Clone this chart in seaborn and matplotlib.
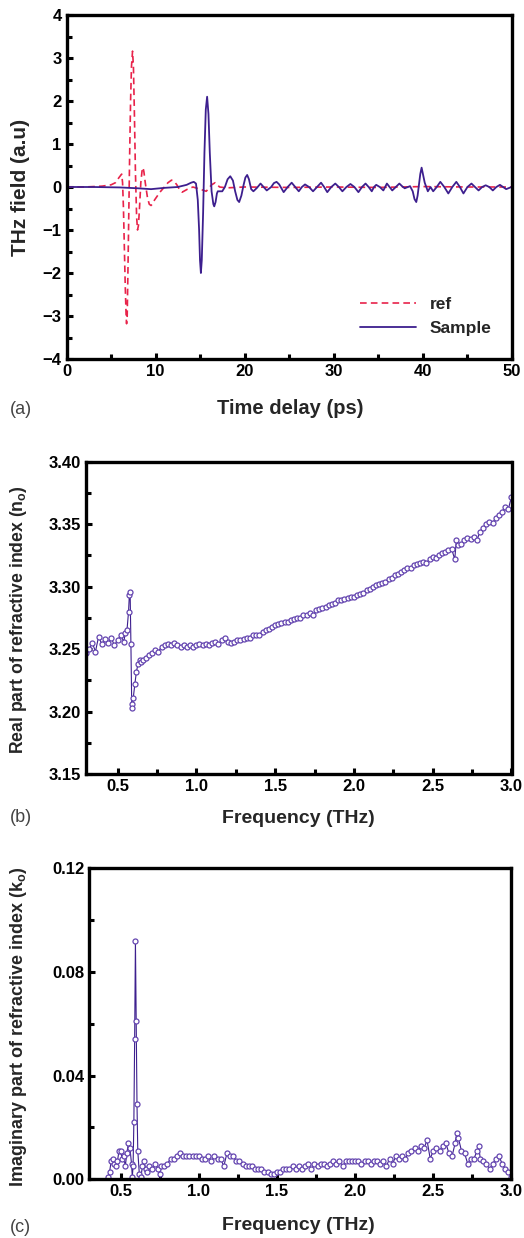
import matplotlib
matplotlib.use("Agg")
import matplotlib.pyplot as plt
import seaborn as sns
from matplotlib.ticker import MultipleLocator, FormatStrFormatter

# ---- (a) time-domain THz field ----
ref_t = [0, 2, 4, 5, 5.5, 5.9, 6.2, 6.3, 6.4, 6.5, 6.6, 6.7, 6.75, 6.82, 6.9, 7.0, 7.1,
         7.2, 7.3, 7.42, 7.52, 7.62, 7.75, 7.88, 7.98, 8.08, 8.2, 8.35, 8.5, 8.6, 8.7,
         8.85, 9.1, 9.3, 9.5, 9.7, 9.9, 10.5, 11.0, 11.4, 11.8, 12.1, 12.4, 12.7, 13.0,
         13.6, 14.2, 15.0, 15.7, 16.3, 16.7, 17.2, 18, 20, 25, 30, 35, 40, 45, 50]
ref_v = [0.0, 0.0, 0.02, 0.05, 0.10, 0.22, 0.30, 0.1, -0.5, -1.4, -2.3, -3.0, -3.18, -3.0,
         -2.0, -0.6, 0.8, 2.0, 2.8, 3.16, 2.8, 1.8, 0.3, -0.7, -1.0, -0.9, -0.5, 0.1, 0.4,
         0.45, 0.35, 0.1, -0.25, -0.4, -0.43, -0.38, -0.3, -0.12, 0.0, 0.1, 0.16, 0.13,
         0.05, -0.06, -0.12, -0.05, 0.0, -0.05, -0.1, 0.05, 0.1, 0.0, -0.02, 0.0, -0.01,
         0.0, -0.01, 0.01, 0.0, 0.0]

smp_t = [0, 3, 6, 8, 9.5, 11, 12.5, 13.5, 14.0, 14.3, 14.55, 14.75, 14.9, 15.0, 15.1, 15.2,
         15.35, 15.5, 15.65, 15.8, 15.95, 16.1, 16.3, 16.5, 16.6, 16.75, 16.9, 17.0, 17.5,
         17.8, 18.1, 18.4, 18.7, 18.95, 19.2, 19.4, 19.65, 19.9, 20.1, 20.3, 20.5, 20.75,
         21.0, 21.4, 21.8, 22.15, 22.5, 23.0, 23.3, 23.6, 23.9, 24.4, 24.85, 25.3, 25.7,
         26.1, 26.45, 26.8, 27.25, 27.7, 28.15, 28.6, 28.95, 29.3, 29.75, 30.2, 30.6, 31.0,
         31.45, 31.9, 32.35, 32.8, 33.2, 33.6, 33.95, 34.3, 34.55, 34.8, 35.2, 35.6, 35.8,
         36.0, 36.3, 36.6, 37.0, 37.4, 37.7, 38.0, 38.6, 38.9, 39.1, 39.3, 39.45, 39.6,
         39.75, 39.9, 40.05, 40.25, 40.6, 40.9, 41.2, 41.6, 42.0, 42.45, 42.9, 43.35, 43.8,
         44.2, 44.6, 45.05, 45.5, 45.9, 46.3, 46.7, 47.1, 47.5, 47.9, 48.3, 48.7, 49.05,
         49.4, 50]
smp_v = [0.0, 0.0, -0.01, -0.03, -0.05, -0.02, 0.0, 0.05, 0.10, 0.12, 0.08, -0.3, -1.0,
         -1.7, -2.0, -1.7, -0.6, 0.8, 1.8, 2.1, 1.7, 0.8, -0.1, -0.4, -0.45, -0.35, -0.15,
         -0.1, -0.1, 0.0, 0.18, 0.25, 0.15, -0.1, -0.3, -0.35, -0.2, 0.05, 0.22, 0.28, 0.18,
         -0.05, -0.1, -0.02, 0.08, 0.0, -0.08, 0.0, 0.09, 0.12, 0.06, -0.12, 0.0, 0.10, 0.0,
         -0.10, 0.0, 0.06, 0.0, -0.10, 0.0, 0.10, 0.0, -0.12, 0.0, 0.08, 0.0, -0.10, 0.0,
         0.07, 0.0, -0.12, 0.0, 0.08, 0.0, -0.10, 0.0, 0.05, 0.0, -0.08, 0.0, 0.08, 0.0,
         -0.08, 0.0, 0.08, 0.02, -0.03, 0.02, -0.1, -0.28, -0.35, -0.2, 0.05, 0.3, 0.45,
         0.3, 0.1, -0.1, 0.0, -0.1, 0.0, 0.12, 0.0, -0.15, 0.0, 0.12, 0.0, -0.15, 0.0, 0.08,
         0.0, -0.08, 0.0, 0.04, 0.0, -0.08, 0.0, 0.05, 0.0, -0.05, 0.0]

# ---- (b) real part of refractive index ----
n_freq = [0.30, 0.32, 0.34, 0.36, 0.38, 0.40, 0.42, 0.44, 0.46, 0.48, 0.50, 0.52, 0.54,
          0.55, 0.56, 0.57, 0.575, 0.58, 0.585, 0.59, 0.595, 0.60, 0.61, 0.62, 0.63, 0.64,
          0.65, 0.66, 0.68, 0.70, 0.72, 0.74, 0.76, 0.78, 0.80, 0.82, 0.84, 0.86, 0.88,
          0.90, 0.92, 0.94, 0.96, 0.98, 1.00, 1.02, 1.04, 1.06, 1.08, 1.10, 1.12, 1.14,
          1.16, 1.18, 1.20, 1.22, 1.24, 1.26, 1.28, 1.30, 1.32, 1.34, 1.36, 1.38, 1.40,
          1.42, 1.44, 1.46, 1.48, 1.50, 1.52, 1.54, 1.56, 1.58, 1.60, 1.62, 1.64, 1.66,
          1.68, 1.70, 1.72, 1.74, 1.76, 1.78, 1.80, 1.82, 1.84, 1.86, 1.88, 1.90, 1.92,
          1.94, 1.96, 1.98, 2.00, 2.02, 2.04, 2.06, 2.08, 2.10, 2.12, 2.14, 2.16, 2.18,
          2.20, 2.22, 2.24, 2.26, 2.28, 2.30, 2.32, 2.34, 2.36, 2.38, 2.40, 2.42, 2.44,
          2.46, 2.48, 2.50, 2.52, 2.54, 2.56, 2.58, 2.60, 2.62, 2.64, 2.65, 2.66, 2.68,
          2.70, 2.72, 2.74, 2.76, 2.78, 2.80, 2.82, 2.84, 2.86, 2.88, 2.90, 2.92, 2.94,
          2.96, 2.98, 3.00]
n_real = [3.247, 3.250, 3.255, 3.248, 3.260, 3.254, 3.258, 3.255, 3.259, 3.253, 3.257,
          3.261, 3.256, 3.263, 3.265, 3.280, 3.293, 3.296, 3.254, 3.206, 3.203, 3.211,
          3.222, 3.232, 3.238, 3.241, 3.240, 3.241, 3.243, 3.245, 3.247, 3.249, 3.248,
          3.252, 3.253, 3.254, 3.253, 3.255, 3.253, 3.252, 3.253, 3.252, 3.253, 3.252,
          3.253, 3.254, 3.253, 3.254, 3.253, 3.255, 3.256, 3.254, 3.257, 3.259, 3.256,
          3.255, 3.256, 3.257, 3.257, 3.258, 3.259, 3.259, 3.261, 3.261, 3.261, 3.264,
          3.265, 3.266, 3.268, 3.269, 3.270, 3.271, 3.272, 3.272, 3.273, 3.274, 3.275,
          3.275, 3.277, 3.277, 3.279, 3.277, 3.281, 3.282, 3.283, 3.284, 3.285, 3.286,
          3.287, 3.289, 3.289, 3.290, 3.291, 3.292, 3.292, 3.293, 3.294, 3.295, 3.297,
          3.298, 3.300, 3.301, 3.302, 3.303, 3.304, 3.306, 3.307, 3.309, 3.310, 3.312,
          3.313, 3.315, 3.315, 3.317, 3.318, 3.319, 3.320, 3.319, 3.322, 3.324, 3.323,
          3.325, 3.327, 3.328, 3.329, 3.330, 3.322, 3.337, 3.333, 3.334, 3.337, 3.339,
          3.338, 3.340, 3.337, 3.344, 3.347, 3.350, 3.352, 3.351, 3.355, 3.357, 3.360,
          3.364, 3.362, 3.372]

# ---- (c) imaginary part of refractive index ----
k_freq = [0.42, 0.43, 0.44, 0.45, 0.46, 0.47, 0.48, 0.49, 0.50, 0.51, 0.52, 0.53, 0.54,
          0.55, 0.56, 0.57, 0.575, 0.58, 0.585, 0.59, 0.595, 0.60, 0.605, 0.61, 0.62,
          0.63, 0.64, 0.65, 0.66, 0.67, 0.68, 0.70, 0.72, 0.74, 0.75, 0.76, 0.78, 0.80,
          0.82, 0.84, 0.86, 0.88, 0.90, 0.92, 0.94, 0.96, 0.98, 1.00, 1.02, 1.04, 1.06,
          1.08, 1.10, 1.12, 1.14, 1.16, 1.18, 1.20, 1.22, 1.24, 1.26, 1.28, 1.30, 1.32,
          1.34, 1.36, 1.38, 1.40, 1.42, 1.44, 1.46, 1.48, 1.50, 1.52, 1.54, 1.56, 1.58,
          1.60, 1.62, 1.64, 1.66, 1.68, 1.70, 1.72, 1.74, 1.76, 1.78, 1.80, 1.82, 1.84,
          1.86, 1.88, 1.90, 1.92, 1.94, 1.96, 1.98, 2.00, 2.02, 2.04, 2.06, 2.08, 2.10,
          2.12, 2.14, 2.16, 2.18, 2.20, 2.22, 2.24, 2.26, 2.28, 2.30, 2.32, 2.34, 2.36,
          2.38, 2.40, 2.42, 2.44, 2.46, 2.48, 2.50, 2.52, 2.54, 2.56, 2.58, 2.60, 2.62,
          2.64, 2.65, 2.66, 2.68, 2.70, 2.72, 2.74, 2.76, 2.78, 2.79, 2.80, 2.82, 2.84,
          2.86, 2.88, 2.90, 2.92, 2.94, 2.96, 2.98, 3.00]
k_imag = [0.001, 0.003, 0.007, 0.008, 0.006, 0.005, 0.007, 0.011, 0.011, 0.008, 0.009,
          0.005, 0.010, 0.014, 0.012, 0.006, 0.001, 0.005, 0.022, 0.054, 0.092, 0.061,
          0.029, 0.011, 0.002, 0.001, 0.005, 0.007, 0.004, 0.003, 0.005, 0.004, 0.006,
          0.004, 0.002, 0.005, 0.005, 0.006, 0.008, 0.008, 0.009, 0.010, 0.009, 0.009,
          0.009, 0.009, 0.009, 0.009, 0.008, 0.008, 0.009, 0.007, 0.009, 0.008, 0.008,
          0.005, 0.010, 0.009, 0.009, 0.007, 0.007, 0.006, 0.005, 0.005, 0.005, 0.004,
          0.004, 0.004, 0.003, 0.003, 0.002, 0.002, 0.003, 0.003, 0.004, 0.004, 0.004,
          0.005, 0.004, 0.005, 0.004, 0.005, 0.006, 0.004, 0.006, 0.005, 0.006, 0.006,
          0.005, 0.006, 0.007, 0.006, 0.007, 0.005, 0.007, 0.007, 0.007, 0.007, 0.007,
          0.006, 0.007, 0.007, 0.006, 0.007, 0.007, 0.006, 0.007, 0.005, 0.008, 0.006,
          0.009, 0.008, 0.009, 0.008, 0.010, 0.011, 0.012, 0.011, 0.013, 0.012, 0.015,
          0.008, 0.011, 0.012, 0.011, 0.013, 0.014, 0.010, 0.009, 0.014, 0.018, 0.016,
          0.011, 0.010, 0.006, 0.008, 0.008, 0.011, 0.013, 0.008, 0.007, 0.006, 0.004,
          0.006, 0.008, 0.009, 0.006, 0.004, 0.003, 0.001]

RED = "#e8234a"
PURPLE = "#3d1f8e"
MARK = "#6445b0"

sns.set_style("ticks")
plt.rcParams["font.family"] = ["Liberation Sans", "DejaVu Sans"]
plt.rcParams["mathtext.fontset"] = "custom"
plt.rcParams["mathtext.bf"] = "Liberation Sans:bold"
plt.rcParams["mathtext.rm"] = "Liberation Sans:bold"

W, H = 524, 1238
fig = plt.figure(figsize=(W / 100, H / 100), dpi=100)


def box(l, t, r, b):
    return [l / W, 1 - b / H, (r - l) / W, (b - t) / H]


def style(ax):
    for s in ax.spines.values():
        s.set_linewidth(2.4)
        s.set_color("black")
    ax.tick_params(which="both", direction="in", width=2.2, colors="black",
                   labelsize=12)
    ax.tick_params(which="major", length=4.5)
    ax.tick_params(which="minor", length=3.5)
    for lab in ax.get_xticklabels() + ax.get_yticklabels():
        lab.set_fontweight("bold")


def place_labels(ax, xl_top, yl_center, yl_right=29):
    ax.xaxis.set_label_coords(298 / W, 1 - xl_top / H, transform=fig.transFigure)
    ax.yaxis.set_label_coords(yl_right / W, 1 - yl_center / H, transform=fig.transFigure)


# panel (a)
ax1 = fig.add_axes(box(66.5, 15, 511.5, 359))
sns.lineplot(x=ref_t, y=ref_v, ax=ax1, color=RED, linestyle=(0, (4, 2.5)),
             linewidth=1.2, sort=False, estimator=None, label="ref")
sns.lineplot(x=smp_t, y=smp_v, ax=ax1, color=PURPLE, linewidth=1.3,
             sort=False, estimator=None, label="Sample")
ax1.set_xlim(0, 50)
ax1.set_ylim(-4, 4)
ax1.xaxis.set_major_locator(MultipleLocator(10))
ax1.xaxis.set_minor_locator(MultipleLocator(5))
ax1.yaxis.set_major_locator(MultipleLocator(1))
ax1.yaxis.set_minor_locator(MultipleLocator(0.5))
style(ax1)
ax1.set_xlabel("Time delay (ps)", fontsize=14.5, fontweight="bold")
ax1.set_ylabel("THz field (a.u)", fontsize=15, fontweight="bold")
ax1.xaxis.set_label_coords(290 / W, 1 - 399 / H, transform=fig.transFigure)
ax1.yaxis.set_label_coords(30 / W, 1 - 187 / H, transform=fig.transFigure)
ax1.legend(loc="lower right", frameon=False, handlelength=3.2,
           bbox_to_anchor=(0.99, 0.02), prop={"weight": "bold", "size": 12.5},
           labelspacing=0.55)
fig.text(10 / W, 1 - 410 / H, "(a)", fontsize=13, color="#444444", va="center")

# panel (b)
ax2 = fig.add_axes(box(86, 461.7, 511.5, 774))
sns.lineplot(x=n_freq, y=n_real, ax=ax2, color=PURPLE, linewidth=0.8,
             marker="o", markersize=3.6, markerfacecolor="white",
             markeredgecolor=MARK, markeredgewidth=0.9, sort=False, estimator=None)
ax2.set_xlim(0.3, 3.0)
ax2.set_ylim(3.15, 3.40)
ax2.xaxis.set_major_locator(MultipleLocator(0.5))
ax2.xaxis.set_minor_locator(MultipleLocator(0.25))
ax2.yaxis.set_major_locator(MultipleLocator(0.05))
ax2.yaxis.set_minor_locator(MultipleLocator(0.025))
ax2.xaxis.set_major_formatter(FormatStrFormatter("%.1f"))
ax2.yaxis.set_major_formatter(FormatStrFormatter("%.2f"))
style(ax2)
ax2.set_xlabel("Frequency (THz)", fontsize=14, fontweight="bold")
ax2.set_ylabel(r"Real part of refractive index (n$_\mathbf{o}$)", fontsize=12.7,
               fontweight="bold")
place_labels(ax2, 810, 620)
fig.text(10 / W, 1 - 818 / H, "(b)", fontsize=13, color="#444444", va="center")

# panel (c)
ax3 = fig.add_axes(box(89.3, 868.3, 511.5, 1179.3))
sns.lineplot(x=k_freq, y=k_imag, ax=ax3, color=PURPLE, linewidth=0.8,
             marker="o", markersize=3.6, markerfacecolor="white",
             markeredgecolor=MARK, markeredgewidth=0.9, sort=False, estimator=None)
ax3.set_xlim(0.3, 3.0)
ax3.set_ylim(0, 0.12)
ax3.xaxis.set_major_locator(MultipleLocator(0.5))
ax3.xaxis.set_minor_locator(MultipleLocator(0.25))
ax3.yaxis.set_major_locator(MultipleLocator(0.04))
ax3.yaxis.set_minor_locator(MultipleLocator(0.02))
ax3.xaxis.set_major_formatter(FormatStrFormatter("%.1f"))
ax3.yaxis.set_major_formatter(FormatStrFormatter("%.2f"))
style(ax3)
ax3.set_xlabel("Frequency (THz)", fontsize=14, fontweight="bold")
ax3.set_ylabel(r"Imaginary part of refractive index (k$_\mathbf{o}$)", fontsize=13,
               fontweight="bold")
place_labels(ax3, 1217, 1027)
fig.text(10 / W, 1 - 1227 / H, "(c)", fontsize=13, color="#444444", va="center")

fig.savefig("out.png", dpi=100)
